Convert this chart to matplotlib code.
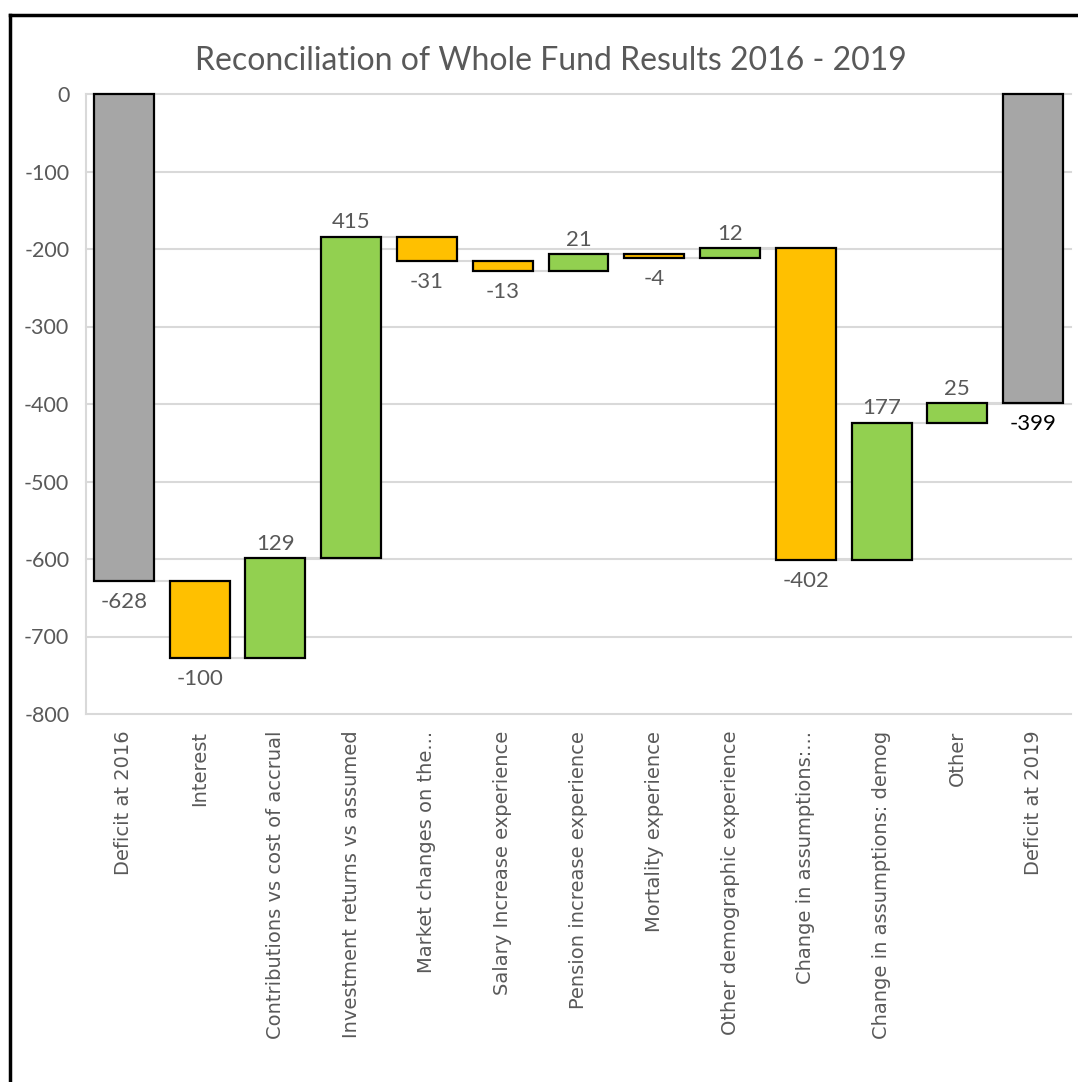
import numpy as np
import matplotlib.pyplot as plt
from matplotlib.lines import Line2D

# waterfall data
categories = ['Deficit at 2016', 'Interest', 'Contributions vs cost of accrual',
              'Investment returns vs assumed', 'Market changes on the...',
              'Salary Increase experience', 'Pension increase experience',
              'Mortality experience', 'Other demographic experience',
              'Change in assumptions:...', 'Change in assumptions: demog',
              'Other', 'Deficit at 2019']
values = [-628, -100, 129, 415, -31, -13, 21, -4, 12, -402, 177, 25, -399]
is_total = [True, False, False, False, False, False, False, False, False,
            False, False, False, True]
y_ticks = [0, -100, -200, -300, -400, -500, -600, -700, -800]

GREY = '#A6A6A6'
ORANGE = '#FFC000'
GREEN = '#92D050'
TEXT = '#595959'
GRID = '#D9D9D9'

W, H = 1078, 1082
fig = plt.figure(figsize=(W / 100, H / 100), dpi=100)
ax = fig.add_axes([86 / W, 1 - 714 / H, (1071 - 86) / W, (714 - 94) / H])

# compute bar bottoms / tops
bottoms, heights, ends = [], [], []
running = 0
for v, tot in zip(values, is_total):
    if tot:
        bottoms.append(0)
        heights.append(v)
        running = v
    else:
        bottoms.append(running)
        heights.append(v)
        running = running + v
    ends.append(running)

colors = [GREY if t else (GREEN if v > 0 else ORANGE) for v, t in zip(values, is_total)]
x = np.arange(len(categories))
bw = 0.79

ax.bar(x, heights, bottom=bottoms, width=bw, color=colors, edgecolor='black',
       linewidth=1.6, zorder=3, clip_on=False)

# connector lines
for i in range(len(x) - 1):
    ax.plot([x[i] + bw / 2, x[i + 1] - bw / 2], [ends[i], ends[i]],
            color=GRID, lw=1.5, zorder=2)

# data labels
for i, (v, t) in enumerate(zip(values, is_total)):
    top = max(bottoms[i], bottoms[i] + heights[i])
    low = min(bottoms[i], bottoms[i] + heights[i])
    col = 'black' if i == len(values) - 1 else TEXT
    if v > 0 and not t:
        ax.annotate(str(v), (x[i], top), xytext=(0, 3), textcoords='offset points',
                    ha='center', va='bottom', fontsize=16, color=col, family='Lato')
    else:
        ax.annotate(str(v), (x[i], low), xytext=(0, -8), textcoords='offset points',
                    ha='center', va='top', fontsize=16, color=col, family='Lato')

ax.set_xlim(-0.5, len(x) - 0.5)
ax.set_ylim(-800, 0)
ax.set_yticks(y_ticks)
ax.set_yticklabels([str(t) for t in y_ticks], fontsize=15.5, color=TEXT, family='Lato')
ax.set_xticks(x)
ax.set_xticklabels(categories, rotation=90, fontsize=14, color=TEXT, family='DejaVu Sans')
ax.tick_params(axis='y', length=0, pad=12)
ax.tick_params(axis='x', length=0, pad=12)

for t in y_ticks:
    ax.axhline(t, color=GRID, lw=1.5, zorder=1, clip_on=False)
for s in ['top', 'right', 'bottom']:
    ax.spines[s].set_visible(False)
ax.spines['left'].set_color(GRID)
ax.spines['left'].set_linewidth(1.5)

fig.text(551 / W, 1 - 61 / H, 'Reconciliation of Whole Fund Results 2016 - 2019',
         ha='center', va='center', fontsize=23, color=TEXT, family='Lato')

# outer frame (left and top edges)
fig.add_artist(Line2D([10 / W, 10 / W], [0, 1 - 15 / H], transform=fig.transFigure,
                      color='black', lw=2.5))
fig.add_artist(Line2D([10 / W, 1], [1 - 15 / H, 1 - 15 / H], transform=fig.transFigure,
                      color='black', lw=2.5))

fig.savefig('out.png', dpi=100, facecolor='white')
